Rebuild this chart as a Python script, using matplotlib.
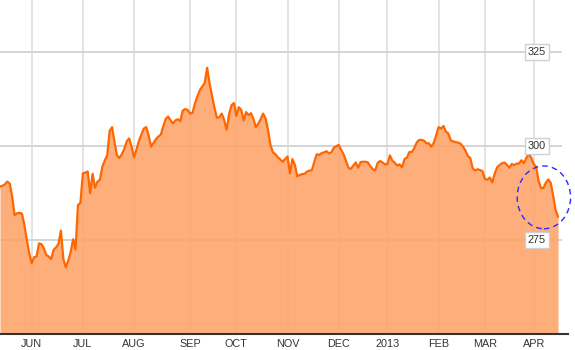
import numpy as np
import pandas as pd
import matplotlib
matplotlib.use("Agg")
import matplotlib.pyplot as plt
from matplotlib.patches import Ellipse
from matplotlib.transforms import blended_transform_factory

# ---------------- data ----------------
start_date = "2012-05-14"
market_holidays = ["2012-05-28", "2012-07-04", "2012-09-03", "2012-10-29",
                   "2012-10-30", "2012-11-22", "2012-12-25", "2013-01-01",
                   "2013-01-21", "2013-02-18", "2013-03-29"]

prices = [
    289.2, 289.4, 289.8, 290.5, 290.0, 286.5, 281.6, 282.1, 282.2, 282.0,
    279.0, 275.0, 271.5, 268.8, 270.4, 270.6, 274.1, 273.9, 272.8, 271.0,
    270.6, 269.9, 272.4, 273.0, 274.0, 277.5, 270.0, 267.7, 269.5, 271.8,
    275.2, 272.5, 284.3, 284.8, 292.7, 292.9, 293.2, 287.4, 292.6, 288.9,
    290.5, 291.0, 294.5, 296.1, 297.5, 304.0, 305.0, 301.0, 297.5, 296.8,
    297.8, 299.2, 301.2, 302.0, 299.8, 297.0, 299.0, 301.3, 303.0, 304.6,
    305.0, 302.8, 299.8, 300.8, 301.8, 302.5, 303.0, 305.2, 307.2, 307.8,
    306.8, 306.0, 306.8, 307.1, 306.6, 309.4, 309.8, 309.6, 308.6, 308.8,
    311.3, 313.2, 314.8, 315.8, 316.7, 320.8, 316.7, 313.3, 310.2, 307.5,
    307.6, 308.6, 306.9, 304.3, 308.4, 310.8, 311.4, 308.0, 310.3, 309.6,
    306.8, 309.0, 308.2, 308.7, 307.2, 305.0, 305.9, 307.2, 308.6, 307.3,
    304.2, 300.2, 298.3, 297.8, 297.0, 296.4, 295.8, 296.5, 297.2, 292.7,
    296.5, 295.0, 291.9, 292.3, 292.5, 292.6, 293.2, 293.4, 293.6, 295.8,
    297.8, 297.6, 298.1, 298.3, 298.6, 298.0, 298.3, 299.5, 299.9, 300.3,
    298.9, 297.8, 296.0, 294.2, 293.9, 294.8, 295.6, 294.2, 295.7, 295.8,
    295.8, 295.6, 294.6, 293.8, 293.5, 295.5, 296.0, 295.6, 295.1, 295.2,
    297.5, 296.1, 295.5, 294.8, 295.1, 294.3, 296.5, 296.9, 298.4, 298.4,
    299.4, 300.9, 301.6, 301.6, 301.4, 300.7, 300.7, 299.8, 300.8, 302.8,
    305.0, 304.6, 305.3, 303.8, 303.3, 301.5, 301.2, 301.0, 300.9, 300.6,
    299.8, 298.8, 297.3, 296.8, 294.0, 293.5, 293.8, 293.6, 293.3, 291.2,
    291.0, 291.6, 290.3, 292.6, 294.3, 294.9, 295.4, 295.6, 295.0, 294.2,
    295.2, 294.9, 295.3, 295.3, 296.2, 295.4, 296.8, 297.9, 296.9, 295.2,
    294.5, 290.8, 288.8, 288.8, 290.2, 291.1, 290.2, 286.8, 283.0, 281.2,
]

month_labels = ["JUN", "JUL", "AUG", "SEP", "OCT", "NOV", "DEC", "2013",
                "FEB", "MAR", "APR"]
y_ticks = [275, 300, 325]
y_tick_labels = ["275", "300", "325"]

# ---------------- build ----------------
dates = pd.bdate_range(start=start_date, periods=len(prices), freq="C",
                       holidays=market_holidays)
x = np.arange(len(prices))
month_change = np.where(dates.month[1:] != dates.month[:-1])[0] + 1
month_idx = month_change[:len(month_labels)]

W, H = 575, 350
fig = plt.figure(figsize=(W / 100, H / 100), dpi=100)
ax = fig.add_axes([0, 1 - 334 / H, 568 / W, 334 / H])

ymin, ymax = 250, 338.8
ax.set_xlim(0, len(prices) - 1 + 4.1)
ax.set_ylim(ymin, ymax)

line_c = "#ff6600"

# grid
for mi in month_idx:
    ax.axvline(mi, color="#e3e3e3", lw=1.4, zorder=0)
for v in y_ticks:
    ax.axhline(v, xmin=0, xmax=561 / 568, color="#d4d4d4", lw=1.4, zorder=0)

ax.fill_between(x, prices, ymin, color="#fda56c", alpha=0.9, lw=0, zorder=1)
ax.plot(x, prices, color=line_c, lw=1.6, zorder=3, solid_joinstyle="round")

# y labels in boxes
tr = blended_transform_factory(ax.transAxes, ax.transData)
for v, lab in zip(y_ticks, y_tick_labels):
    ax.text(537 / 568, v, lab, transform=tr, ha="center", va="center",
            fontsize=7.8, color="#333333", family="Liberation Sans", zorder=6,
            bbox=dict(boxstyle="square,pad=0.25", fc="white", ec="#d0d0d0", lw=1))

# annotation ellipse
ell = Ellipse((223.2, 286.33), width=21.9, height=16.7, fill=False,
              edgecolor="#2a2aff", lw=1.0, ls=(0, (4, 3)), zorder=7, clip_on=False)
ax.add_patch(ell)

# axes styling
for s in ["top", "left", "right"]:
    ax.spines[s].set_visible(False)
ax.spines["bottom"].set_color("#333333")
ax.spines["bottom"].set_linewidth(1.5)
ax.set_yticks([])
ax.set_xticks(month_idx)
ax.set_xticklabels(month_labels)
ax.tick_params(axis="x", length=0, pad=3.5, labelsize=7.8, colors="#333333")
for t in ax.get_xticklabels():
    t.set_family("Liberation Sans")

fig.savefig("out.png", dpi=100)
